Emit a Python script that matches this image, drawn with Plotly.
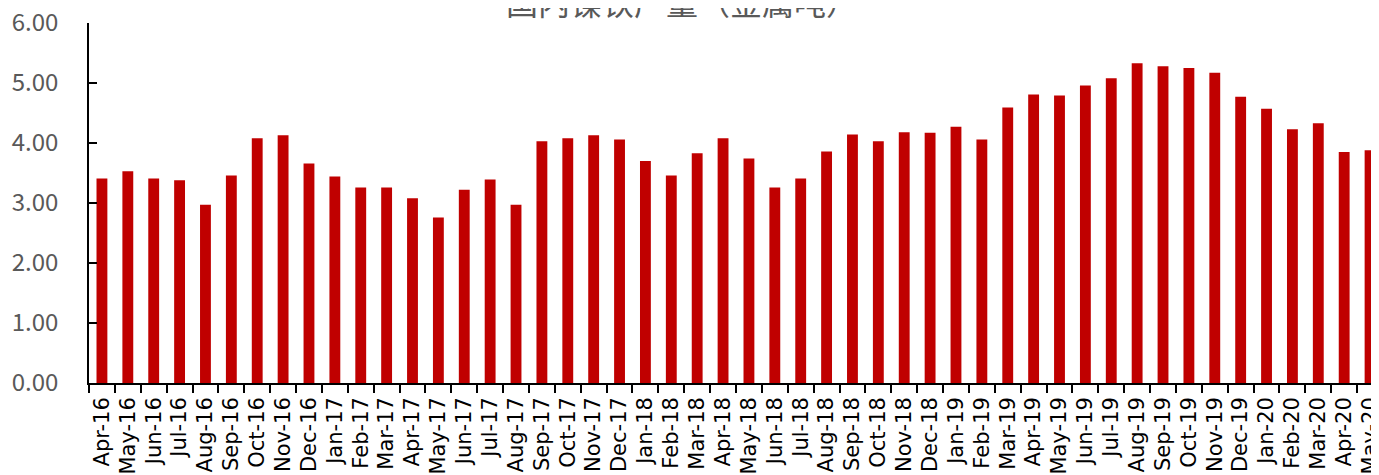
import plotly.graph_objects as go

# monthly nickel pig iron output (metal tons, 10k)
months = [
    'Apr-16', 'May-16', 'Jun-16', 'Jul-16', 'Aug-16', 'Sep-16', 'Oct-16', 'Nov-16', 'Dec-16',
    'Jan-17', 'Feb-17', 'Mar-17', 'Apr-17', 'May-17', 'Jun-17', 'Jul-17', 'Aug-17', 'Sep-17',
    'Oct-17', 'Nov-17', 'Dec-17',
    'Jan-18', 'Feb-18', 'Mar-18', 'Apr-18', 'May-18', 'Jun-18', 'Jul-18', 'Aug-18', 'Sep-18',
    'Oct-18', 'Nov-18', 'Dec-18',
    'Jan-19', 'Feb-19', 'Mar-19', 'Apr-19', 'May-19', 'Jun-19', 'Jul-19', 'Aug-19', 'Sep-19',
    'Oct-19', 'Nov-19', 'Dec-19',
    'Jan-20', 'Feb-20', 'Mar-20', 'Apr-20', 'May-20',
]
output = [
    3.41, 3.53, 3.41, 3.38, 2.97, 3.46, 4.08, 4.13, 3.66,
    3.44, 3.26, 3.26, 3.08, 2.76, 3.22, 3.39, 2.97, 4.03,
    4.08, 4.13, 4.06,
    3.70, 3.46, 3.83, 4.08, 3.74, 3.26, 3.41, 3.86, 4.14,
    4.03, 4.18, 4.17,
    4.27, 4.06, 4.59, 4.81, 4.79, 4.96, 5.08, 5.33, 5.28,
    5.25, 5.17, 4.77,
    4.57, 4.23, 4.33, 3.85, 3.88,
]

fig = go.Figure()

fig.add_trace(go.Bar(
    x=months,
    y=output,
    marker=dict(color='#C00000', line=dict(width=0)),
    hovertemplate='%{x}: %{y:.2f}<extra></extra>',
))

# title sits partly above the page edge, as in the source image
fig.add_annotation(
    text='国内镍铁产量（金属吨）',
    xref='paper', yref='paper',
    x=0.458, y=0.992,
    xanchor='center', yanchor='bottom',
    showarrow=False,
    font=dict(family='Noto Sans CJK SC', size=32, color='#595959'),
)

# the html body adds an 8px offset, so margins are trimmed by 8px
fig.update_layout(
    width=1379,
    height=475,
    xaxis=dict(
        type='category',
        range=[-0.5, 49.5],
        tickmode='linear',
        tick0=0,
        dtick=1,
        automargin=False,
        showline=True,
        linecolor='black',
        linewidth=1.5,
        ticks='outside',
        ticklen=8,
        tickwidth=1.5,
        tickcolor='black',
        tickson='boundaries',
        tickangle=-90,
        ticklabelstandoff=4,
        tickfont=dict(family='DejaVu Sans', size=21, color='black'),
        showgrid=False,
    ),
    yaxis=dict(
        range=[0, 6],
        dtick=1,
        tickformat='.2f',
        automargin=False,
        ticklabeloverflow='allow',
        showline=True,
        linecolor='black',
        linewidth=1.5,
        ticks='inside',
        ticklen=8,
        tickwidth=1.5,
        tickcolor='black',
        ticklabelstandoff=24,
        tickfont=dict(family='Noto Sans CJK SC', size=24, color='#595959'),
        showgrid=False,
        zeroline=False,
    ),
    bargap=0.58,
    showlegend=False,
    margin=dict(l=81, r=4, t=15, b=100),
    plot_bgcolor='white',
    paper_bgcolor='white',
)

fig.write_html('out.html')
